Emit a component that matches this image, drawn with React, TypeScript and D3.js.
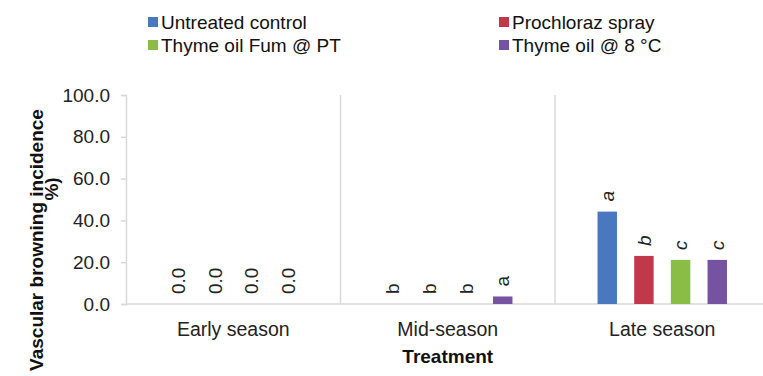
import React, { useEffect, useRef } from 'react';
import * as d3 from 'd3';

const seasons = ['Early season', 'Mid-season', 'Late season'];
const treatments = ['Untreated control', 'Prochloraz spray', 'Thyme oil Fum @ PT', 'Thyme oil @ 8 °C'];

// values per treatment, in season order
const untreated = [0, 0, 44.2];
const prochloraz = [0, 0, 23.0];
const thymeFum = [0, 0, 21.1];
const thyme8 = [0, 3.6, 21.1];

// labels above bars, per season, in treatment order
const labelsEarly = ['0.0', '0.0', '0.0', '0.0'];
const labelsMid = ['b', 'b', 'b', 'a'];
const labelsLate = ['a', 'b', 'c', 'c'];

const yTicks = [0, 20, 40, 60, 80, 100];

const colors = ['#4a78c0', '#c0394a', '#8abd45', '#7652a3'];

const W = 763;
const H = 376;
const FONT = "'Liberation Sans', Arial, sans-serif";

const App = () => {
  const ref = useRef<SVGSVGElement | null>(null);

  useEffect(() => {
    if (!ref.current) return;
    const svg = d3.select(ref.current);
    svg.selectAll('*').remove();

    const series = [untreated, prochloraz, thymeFum, thyme8];
    const labels = [labelsEarly, labelsMid, labelsLate];
    const rows = seasons.map((s, i) => ({
      season: s,
      italic: i === 2,
      bars: treatments.map((t, j) => ({ t, v: series[j][i], label: labels[i][j] })),
    }));

    const left = 126;
    const right = 769.5;
    const top = 95;
    const bottom = 304;

    const x0 = d3.scaleBand().domain(seasons).range([left, right]).padding(0);
    const x1 = d3.scaleBand().domain(treatments).range([0, x0.bandwidth()])
      .paddingInner(0.47).paddingOuter(1.16);
    const y = d3.scaleLinear().domain([0, 100]).range([bottom, top]);
    const color = d3.scaleOrdinal<string, string>().domain(treatments).range(colors);

    const grid = '#d9d9d9';

    // category separators
    svg.append('g').selectAll('line')
      .data(seasons.slice(1))
      .enter().append('line')
      .attr('x1', d => x0(d)!).attr('x2', d => x0(d)!)
      .attr('y1', y(100)).attr('y2', bottom)
      .attr('stroke', grid).attr('stroke-width', 1.5);

    // y axis
    const yAxis = svg.append('g')
      .attr('transform', `translate(${left},0)`)
      .call(d3.axisLeft(y).tickValues(yTicks).tickFormat(d => (+d).toFixed(1)).tickSize(5).tickPadding(11));
    yAxis.select('.domain').attr('stroke', grid).attr('stroke-width', 1.5);
    yAxis.selectAll('.tick line').attr('stroke', grid).attr('stroke-width', 1.5);
    yAxis.selectAll('.tick text')
      .attr('fill', '#222').style('font-family', FONT).style('font-size', '19px');

    // x axis line
    svg.append('line')
      .attr('x1', left).attr('x2', right)
      .attr('y1', bottom).attr('y2', bottom)
      .attr('stroke', grid).attr('stroke-width', 1.5);

    // bars
    const groups = svg.append('g').selectAll('g')
      .data(rows)
      .enter().append('g')
      .attr('transform', d => `translate(${x0(d.season)},0)`);

    groups.selectAll('rect')
      .data(d => d.bars)
      .enter().append('rect')
      .attr('x', d => x1(d.t)!)
      .attr('width', x1.bandwidth())
      .attr('y', d => y(d.v))
      .attr('height', d => bottom - y(d.v))
      .attr('fill', d => color(d.t));

    // rotated labels
    groups.each(function (row) {
      d3.select(this).selectAll('text')
        .data(row.bars)
        .enter().append('text')
        .attr('transform', d => `translate(${x1(d.t)! + x1.bandwidth() / 2},${y(d.v) - 10}) rotate(-90)`)
        .attr('dy', '0.35em')
        .attr('text-anchor', 'start')
        .style('font-family', FONT)
        .style('font-size', '19px')
        .style('font-style', row.italic ? 'italic' : 'normal')
        .attr('fill', '#222')
        .text(d => d.label);
    });

    // category labels
    svg.append('g').selectAll('text')
      .data(seasons)
      .enter().append('text')
      .attr('x', d => x0(d)! + x0.bandwidth() / 2)
      .attr('y', 336)
      .attr('text-anchor', 'middle')
      .style('font-family', FONT)
      .style('font-size', '19.5px')
      .attr('fill', '#222')
      .text(d => d);

    // x title
    svg.append('text')
      .attr('x', (left + right) / 2)
      .attr('y', 363)
      .attr('text-anchor', 'middle')
      .style('font-family', FONT)
      .style('font-size', '19px')
      .style('font-weight', 'bold')
      .attr('fill', '#111')
      .text('Treatment');

    // y title (two lines)
    svg.append('text')
      .attr('transform', `translate(43,240) rotate(-90)`)
      .attr('text-anchor', 'middle')
      .style('font-family', FONT)
      .style('font-size', '19px')
      .style('font-weight', 'bold')
      .attr('fill', '#111')
      .text('Vascular browning incidence');
    svg.append('text')
      .attr('transform', `translate(58,189) rotate(-90)`)
      .attr('text-anchor', 'middle')
      .style('font-family', FONT)
      .style('font-size', '19px')
      .style('font-weight', 'bold')
      .attr('fill', '#111')
      .text('%)');

    // legend
    const legendPos = [
      { x: 148, y: 22 },
      { x: 499, y: 22 },
      { x: 148, y: 45 },
      { x: 499, y: 45 },
    ];
    const legend = svg.append('g').selectAll('g')
      .data(treatments)
      .enter().append('g')
      .attr('transform', (d, i) => `translate(${legendPos[i].x},${legendPos[i].y})`);
    legend.append('rect')
      .attr('x', 0).attr('y', -5)
      .attr('width', 10).attr('height', 10)
      .attr('fill', d => color(d));
    legend.append('text')
      .attr('x', 13)
      .attr('y', 6.5)
      .style('font-family', FONT)
      .style('font-size', '19px')
      .attr('fill', '#111')
      .text(d => d);
  }, []);

  return (
    <svg
      ref={ref}
      width={W}
      height={H}
      style={{ position: 'absolute', left: 0, top: 0, background: '#fff' }}
    />
  );
};

export default App;
